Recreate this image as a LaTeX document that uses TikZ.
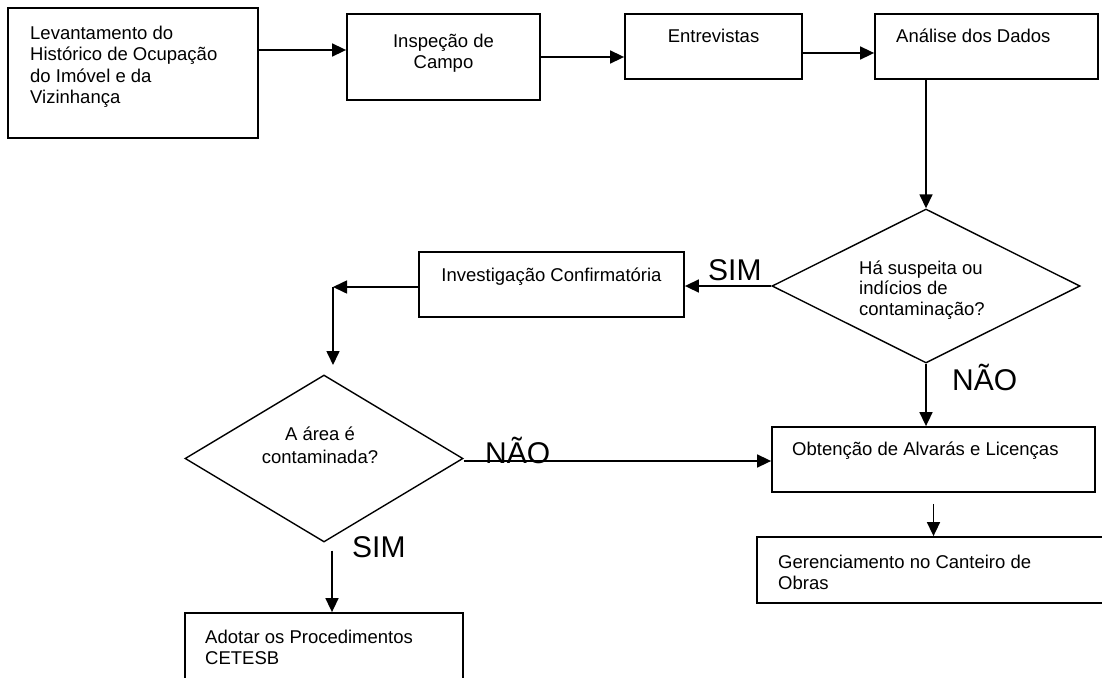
\documentclass[tikz,border=0pt]{standalone}
\usepackage{fontspec}
\setmainfont{Liberation Sans}
\usetikzlibrary{arrows.meta,shapes.geometric}
\tikzset{
  box/.style={draw, rectangle, line width=1.8pt, inner sep=0pt},
  decision/.style={draw, diamond, line width=1.4pt, inner sep=0pt},
  arr/.style={line width=1.6pt, -{Triangle[length=14pt,width=13pt]}},
  txt/.style={inner sep=0pt, anchor=north west, align=left,
    font=\fontsize{18.5}{21}\selectfont},
  ctxt/.style={txt, anchor=north, align=center},
  big/.style={inner sep=0pt, anchor=base west, font=\fontsize{30}{36}\selectfont},
}
\newcommand{\topstrut}{\rule{0pt}{19pt}}
\begin{document}
\begin{tikzpicture}[x=1pt,y=-1pt]
\clip (0,0) rectangle (1102,677);
\fill[white] (0,0) rectangle (1102,677);

% process boxes
\node[box, minimum width=250pt, minimum height=130pt] (b1) at (133,73) {};
\node[box, minimum width=193pt, minimum height=86pt] (b2) at (443.5,57) {};
\node[box, minimum width=177pt, minimum height=65pt] (b3) at (713.5,46.5) {};
\node[box, minimum width=223pt, minimum height=65pt] (b4) at (986.5,46.5) {};
\node[box, minimum width=265pt, minimum height=65pt] (inv) at (551.5,284.5) {};
\node[box, minimum width=323pt, minimum height=65pt] (obt) at (933.5,459.5) {};
\node[box, minimum width=355pt, minimum height=66pt] (ger) at (934.5,570) {};
\node[box, minimum width=278pt, minimum height=87pt] (ado) at (324,656.5) {};

% decisions
\node[decision, aspect=2, minimum width=308pt, minimum height=154pt] (d1) at (926,286) {};
\node[decision, aspect=1.66, minimum width=278pt, minimum height=167pt] (d2) at (324,458.5) {};

% texts
\node[txt, font=\fontsize{18.5}{21.5}\selectfont] (t1) at (30,20)
  {\topstrut Levantamento do\\Histórico de Ocupação\\do Imóvel e da\\Vizinhança};
\node[ctxt] (t2) at (443.5,28) {\topstrut Inspeção de\\Campo};
\node[ctxt] (t3) at (713.5,23) {\topstrut Entrevistas};
\node[txt] (t4) at (896,23) {\topstrut Análise dos Dados};
\node[ctxt] (t5) at (551.5,262) {\topstrut Investigação Confirmatória};
\node[txt, font=\fontsize{18.5}{20.5}\selectfont] (t6) at (859,255)
  {\topstrut Há suspeita ou\\indícios de\\contaminação?};
\node[ctxt, font=\fontsize{18.5}{23}\selectfont] (t7) at (320,421)
  {\topstrut A área é\\contaminada?};
\node[txt] (t8) at (792,436) {\topstrut Obtenção de Alvarás e Licenças};
\node[txt] (t9) at (778,549) {\topstrut Gerenciamento no Canteiro de\\Obras};
\node[txt] (t10) at (205,624) {\topstrut Adotar os Procedimentos\\CETESB};

% branch labels
\node[big] (sim1) at (708,280) {SIM};
\node[big] (nao1) at (952,390) {NÃO};
\node[big] (nao2) at (485,463) {NÃO};
\node[big] (sim2) at (352,557) {SIM};

% helper points for the left branch
\coordinate (bend) at (333,287);
\coordinate (d2in) at (333,365);

% connectors
\draw[arr] (b1.east |- 0,50) -- (b2.west |- 0,50);
\draw[arr] (b2.east |- 0,57) -- (b3.west |- 0,57);
\draw[arr] (b3.east |- 0,53) -- (b4.west |- 0,53);
\draw[arr] (d1.north |- b4.south) -- (d1.north);
\draw[arr] (d1.west) -- (inv.east |- d1.west);
\draw[arr] (inv.west |- bend) -- (bend);
\draw[arr] (bend) -- (d2in);
\draw[arr] (d1.south) -- (d1.south |- obt.north);
\draw[arr] (d2.east |- 0,461) -- (obt.west |- 0,461);
\draw[arr] ([yshift=-11pt]obt.south) -- (obt.south |- ger.north);
\draw[arr] ([xshift=8pt,yshift=-8pt]d2.south) -- ([xshift=8pt]d2.south |- ado.north);
\end{tikzpicture}
\end{document}
